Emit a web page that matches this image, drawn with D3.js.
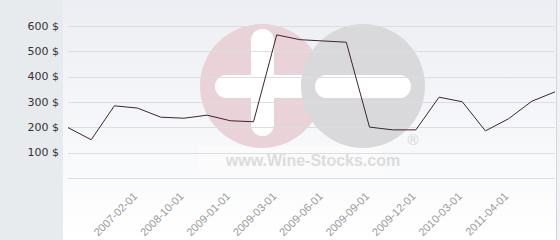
<!DOCTYPE html>
<html>
<head>
<meta charset="utf-8">
<script src="https://cdn.jsdelivr.net/npm/d3@7"></script>
<style>
  body { margin: 0; background: #fff; }
  svg { display: block; }
</style>
</head>
<body>
<div id="chart"></div>
<script>
'use strict';

// price per point
var prices = [199, 151, 285, 276, 240, 236, 248, 226, 222, 565, 546, 541, 536,
              201, 190, 190, 319, 301, 186, 234, 303, 340];
// only some points carry a date label
var tickIndex = [3, 5, 7, 9, 11, 13, 15, 17, 19];
var tickLabels = ['2007-02-01', '2008-10-01', '2009-01-01', '2009-03-01', '2009-06-01',
                  '2009-09-01', '2009-12-01', '2010-03-01', '2011-04-01'];
var yTicks = [100, 200, 300, 400, 500, 600];

var width = 560, height = 240;
var plot = {left: 68, right: 555, top: 26, bottom: 178};

var svg = d3.select('#chart')
  .append('svg')
    .attr('width', width)
    .attr('height', height);

// background gradient of the plot area
var grad = svg.append('defs').append('linearGradient')
    .attr('id', 'bg')
    .attr('x1', 0).attr('y1', 0).attr('x2', 0).attr('y2', 1);
grad.append('stop').attr('offset', '0%').attr('stop-color', '#eceef3');
grad.append('stop').attr('offset', '100%').attr('stop-color', '#ffffff');

svg.append('rect')
    .attr('x', 63).attr('y', 0)
    .attr('width', width - 63).attr('height', height)
    .attr('fill', 'url(#bg)');

// left panel
svg.append('rect')
    .attr('x', 0).attr('y', 0)
    .attr('width', 63).attr('height', height)
    .attr('fill', '#e7ebee');

// right border
svg.append('rect')
    .attr('x', 556).attr('y', 0)
    .attr('width', 4).attr('height', height)
    .attr('fill', '#f1f2f5');
svg.append('line')
    .attr('x1', 556.5).attr('x2', 556.5)
    .attr('y1', 0).attr('y2', height)
    .attr('stroke', '#d4d6da');

// watermark
var wm = svg.append('g').attr('class', 'watermark');
wm.append('rect')
    .attr('x', 198).attr('y', 146).attr('width', 184).attr('height', 26)
    .attr('fill', '#fbfbfc');
wm.append('circle').attr('cx', 262).attr('cy', 86).attr('r', 62).attr('fill', '#ead2d9');
wm.append('rect').attr('x', 251).attr('y', 29).attr('width', 23).attr('height', 107)
    .attr('rx', 11.5).attr('fill', '#ffffff');
wm.append('rect').attr('x', 215).attr('y', 75).attr('width', 96).attr('height', 23)
    .attr('rx', 11.5).attr('fill', '#ffffff');
wm.append('circle').attr('cx', 363).attr('cy', 86).attr('r', 62).attr('fill', '#d9d9db');
wm.append('rect').attr('x', 315).attr('y', 75).attr('width', 96).attr('height', 23)
    .attr('rx', 11.5).attr('fill', '#ffffff');
wm.append('text')
    .attr('x', 313).attr('y', 166)
    .attr('text-anchor', 'middle')
    .style('font-family', 'Liberation Sans, Arial, sans-serif')
    .style('font-weight', 'bold')
    .style('font-size', '16px')
    .attr('fill', '#dcdcdc')
    .text('www.Wine-Stocks.com');
wm.append('text')
    .attr('x', 413).attr('y', 145)
    .attr('text-anchor', 'middle')
    .style('font-family', 'Liberation Sans, Arial, sans-serif')
    .style('font-size', '15px')
    .attr('fill', '#d4d4d4')
    .text('®');

// scales
var x = d3.scalePoint()
  .domain(d3.range(prices.length))
  .range([plot.left, plot.right]);

var y = d3.scaleLinear()
  .domain([0, 600])
  .range([plot.bottom, plot.top]);

// grid lines
svg.append('g')
  .selectAll('line')
  .data([0].concat(yTicks))
  .enter()
  .append('line')
    .attr('x1', plot.left).attr('x2', plot.right)
    .attr('y1', function (d) { return Math.round(y(d)) + 0.5; })
    .attr('y2', function (d) { return Math.round(y(d)) + 0.5; })
    .attr('stroke', '#dcdde0');

// y axis labels
var yAxis = d3.axisLeft(y)
  .tickValues(yTicks)
  .tickSize(0)
  .tickPadding(0)
  .tickFormat(function (d) { return d + ' $'; });
var gy = svg.append('g')
    .attr('transform', 'translate(59,0)')
    .call(yAxis);
gy.select('.domain').remove();
gy.selectAll('text')
    .attr('dy', '0.3em')
    .style('font-family', 'DejaVu Sans, sans-serif')
    .style('font-size', '11px')
    .attr('fill', '#333');

// x axis labels
var xAxis = d3.axisBottom(x)
  .tickValues(tickIndex)
  .tickSize(0)
  .tickFormat(function (d) { return tickLabels[tickIndex.indexOf(d)]; });
var gx = svg.append('g')
    .attr('transform', 'translate(0,' + plot.bottom + ')')
    .call(xAxis);
gx.select('.domain').remove();
gx.selectAll('text')
    .attr('y', 0).attr('dy', 0)
    .attr('text-anchor', 'end')
    .attr('transform', 'translate(0,19) rotate(-45)')
    .style('font-family', 'Liberation Sans, Arial, sans-serif')
    .style('font-size', '11px')
    .attr('fill', '#9a9a9a');

// price line
svg.append('path')
    .datum(prices)
    .attr('fill', 'none')
    .attr('stroke', '#3a2630')
    .attr('stroke-width', 1)
    .attr('stroke-linejoin', 'round')
    .attr('d', d3.line()
      .x(function (d, i) { return x(i); })
      .y(function (d) { return y(d); })
    );
</script>
</body>
</html>
